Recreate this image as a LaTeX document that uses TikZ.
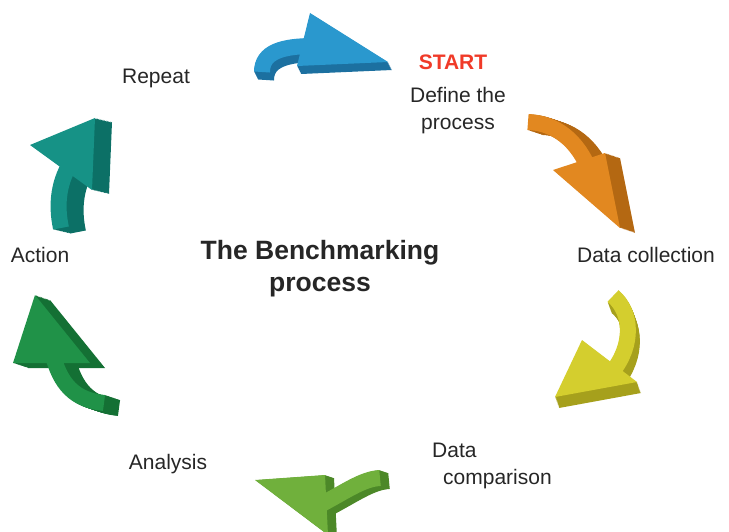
\documentclass[tikz,border=0pt]{standalone}
\usepackage{fontspec}
\setmainfont{Liberation Sans}

\definecolor{bmblue}{RGB}{42,152,206}
\definecolor{bmbluedark}{RGB}{28,112,160}
\definecolor{bmorange}{RGB}{226,136,32}
\definecolor{bmorangedark}{RGB}{180,104,18}
\definecolor{bmyellow}{RGB}{212,206,46}
\definecolor{bmyellowdark}{RGB}{166,160,28}
\definecolor{bmgreen}{RGB}{112,176,60}
\definecolor{bmgreendark}{RGB}{76,136,40}
\definecolor{bmdkgreen}{RGB}{32,146,72}
\definecolor{bmdkgreendark}{RGB}{20,112,52}
\definecolor{bmteal}{RGB}{22,146,134}
\definecolor{bmtealdark}{RGB}{12,112,102}
\definecolor{labelgrey}{RGB}{38,38,38}
\definecolor{startred}{RGB}{240,58,40}

% curved 3D arrow: head corners (A)(tip)(B), extrusion (dx,dy), shaft path
\def\bmarrow[#1](#2)(#3)(#4)(#5,#6)#7{%
	\foreach \k in {1,...,12}{
		\begin{scope}[shift={({\k*#5/12},{\k*#6/12})}]
			\draw[shaftline, #1dark] #7;
			\fill[#1dark] (#2) -- (#3) -- (#4) -- cycle;
		\end{scope}
	}
	\draw[shaftline, #1] #7;
	\fill[#1] (#2) -- (#3) -- (#4) -- cycle;
}

\tikzset{
	shaftline/.style={line width=16pt},
	steplabel/.style={font=\fontsize{21}{27}\selectfont, text=labelgrey, inner sep=0pt},
	titlelabel/.style={font=\fontsize{26.5}{32}\selectfont\bfseries, text=labelgrey, align=center, inner sep=0pt}
}

\begin{document}
\begin{tikzpicture}[x=1pt, y=-1pt]
	\useasboundingbox (0,0) rectangle (729,532);
	\clip (0,0) rectangle (729,532);
	
	%%%%% arrows %%%%%
	\bmarrow[bmblue](310,13)(388,62)(297,66)(4,8){(262,72) .. controls (262,52) and (282,46) .. (314,46)};
	\bmarrow[bmorange](553,170)(620,228)(605,153)(15,5){(528,122) .. controls (555,123) and (578,140) .. (590,172)};
	\bmarrow[bmyellow](582,340)(555,397)(637,382)(4,11){(613,296) .. controls (632,312) and (634,345) .. (612,372)};
	\bmarrow[bmgreen](325,475)(255,480)(328,535)(9,3){(380,478) .. controls (362,479) and (345,492) .. (318,506)};
	\bmarrow[bmdkgreen](13,363)(35,295)(90,363)(15,5){(104,403) .. controls (75,400) and (60,385) .. (52,352)};
	\bmarrow[bmteal](30,145)(95,118)(92,190)(17,4){(61,228) .. controls (56,205) and (58,180) .. (74,158)};
	
	%%%%% labels %%%%%
	\node[steplabel, text=startred, font=\fontsize{21}{27}\selectfont\bfseries] (start) at (453,62) {START};
	\node[steplabel, align=center] (define) at (458,111) {Define the\\process};
	\node[steplabel] (collection) at (646,255) {Data collection};
	\node[steplabel, align=left, anchor=west] (comparison) at (432,466) {Data\\\hspace{11pt}comparison};
	\node[steplabel] (analysis) at (168,464) {Analysis};
	\node[steplabel] (action) at (40,255) {Action};
	\node[steplabel] (repeat) at (156,78) {Repeat};
	
	\node[titlelabel] (title) at (320,269) {The Benchmarking\\process};
\end{tikzpicture}
\end{document}
